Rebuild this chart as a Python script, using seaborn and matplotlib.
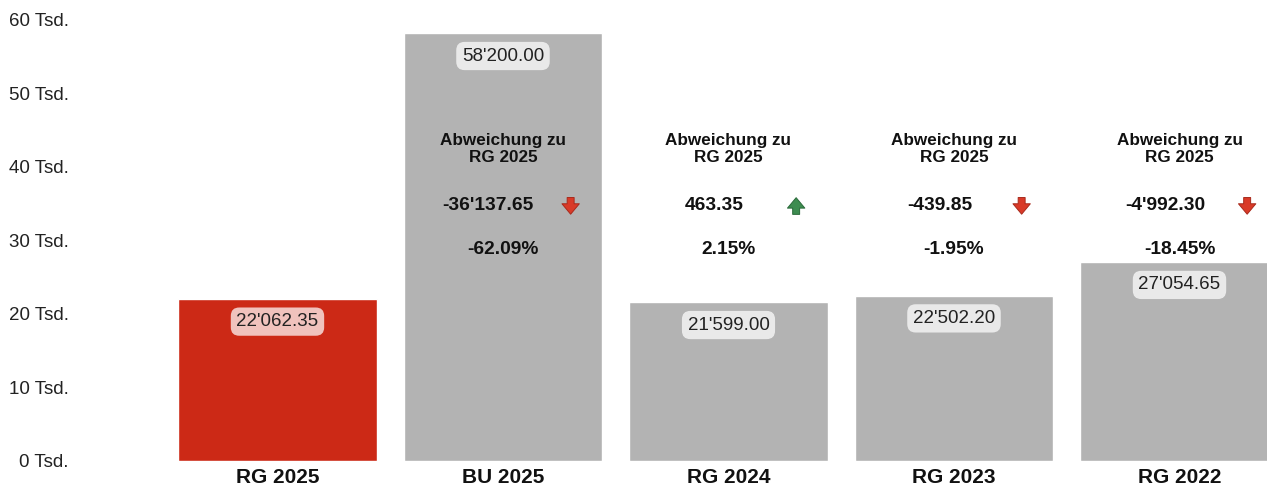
import matplotlib
matplotlib.use("Agg")
import matplotlib.pyplot as plt
import seaborn as sns
import pandas as pd

# values
categories = ["RG 2025", "BU 2025", "RG 2024", "RG 2023", "RG 2022"]
values = [22062.35, 58200.00, 21599.00, 22502.20, 27054.65]
value_labels = ["22'062.35", "58'200.00", "21'599.00", "22'502.20", "27'054.65"]
dev_labels = [None, "-36'137.65", "463.35", "-439.85", "-4'992.30"]
pct_labels = [None, "-62.09%", "2.15%", "-1.95%", "-18.45%"]
dev_up = [None, False, True, False, False]
ytick_vals = [0, 10000, 20000, 30000, 40000, 50000, 60000]
ytick_labels = ["0 Tsd.", "10 Tsd.", "20 Tsd.", "30 Tsd.", "40 Tsd.", "50 Tsd.", "60 Tsd."]

red = "#cc2916"
grey = "#b3b3b3"
colors = [red] + [grey] * 4

sns.set_style("white")
plt.rcParams["font.family"] = ["Liberation Sans", "DejaVu Sans"]

df = pd.DataFrame({"cat": categories, "val": values})

fig = plt.figure(figsize=(12.67, 4.9), dpi=100)
ax = fig.add_axes([0.0631, 0.0592, 0.9369, 0.90])

sns.barplot(data=df, x="cat", y="val", hue="cat", palette=colors,
            width=0.88, legend=False, ax=ax, saturation=1)

ax.set_ylim(0, 60000)
ax.set_xlim(-0.876, 4.388)
ax.set_yticks(ytick_vals)
ax.set_yticklabels(ytick_labels, fontsize=13.5, color="#222222")
ax.tick_params(axis="y", length=0, pad=8)
ax.tick_params(axis="x", length=0, pad=5)
for lab in ax.get_xticklabels():
    lab.set_fontsize(15)
    lab.set_fontweight("bold")
    lab.set_color("#111111")
ax.set_xlabel("")
ax.set_ylabel("")
sns.despine(ax=ax, left=True, bottom=True)

arrow_style = "simple,head_width=1.25,head_length=0.75,tail_width=0.5"
for i, v in enumerate(values):
    ax.text(i, v - 3100, value_labels[i], ha="center", va="center", fontsize=13.5,
            color="#222222",
            bbox=dict(boxstyle="round,pad=0.3,rounding_size=0.45", fc="white",
                      ec="none", alpha=0.72))
    if dev_labels[i] is None:
        continue
    ax.text(i, 42500, "Abweichung zu\nRG 2025", ha="center", va="center",
            fontsize=12.3, fontweight="bold", color="#111111", linespacing=1.15)
    ax.text(i - 0.065, 34700, dev_labels[i], ha="center", va="center",
            fontsize=13.8, fontweight="bold", color="#111111")
    ax.text(i, 28800, pct_labels[i], ha="center", va="center",
            fontsize=13.8, fontweight="bold", color="#111111")
    if dev_up[i]:
        ax.annotate("", xy=(i + 0.3, 34700 + 1500), xytext=(0, -16),
                    textcoords="offset points",
                    arrowprops=dict(arrowstyle=arrow_style,
                                    fc="#3d8c50", ec="#2a6a3a", lw=0.7))
    else:
        ax.annotate("", xy=(i + 0.3, 34700 - 1500), xytext=(0, 16),
                    textcoords="offset points",
                    arrowprops=dict(arrowstyle=arrow_style,
                                    fc="#d93a28", ec="#a82a1c", lw=0.7))

fig.savefig("out.png", dpi=100)
